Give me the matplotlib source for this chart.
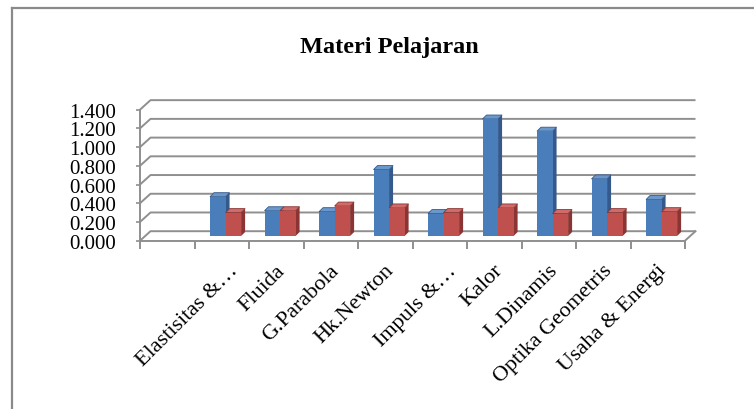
import numpy as np
import matplotlib
matplotlib.use("Agg")
import matplotlib.pyplot as plt
from matplotlib.lines import Line2D

# ---- data ----
categories = ["", "Elastisitas &…", "Fluida", "G.Parabola", "Hk.Newton", "Impuls &…",
              "Kalor", "L.Dinamis", "Optika Geometris", "Usaha & Energi"]
series_a = [np.nan, 0.42, 0.27, 0.26, 0.71, 0.24, 1.25, 1.12, 0.61, 0.39]
series_b = [np.nan, 0.25, 0.27, 0.32, 0.30, 0.25, 0.30, 0.24, 0.25, 0.26]
y_ticks = [0.0, 0.2, 0.4, 0.6, 0.8, 1.0, 1.2, 1.4]
y_ticklabels = ["0.000", "0.200", "0.400", "0.600", "0.800", "1.000", "1.200", "1.400"]
title = "Materi Pelajaran"

W, H = 754, 410
fig = plt.figure(figsize=(W / 100, H / 100), dpi=100)
fig.patch.set_facecolor("white")
serif = ["Liberation Serif", "DejaVu Serif"]

# axes placement in pixel terms
px_per_x = 54.5
px_per_y = 93.6
left_px, right_px = 140, 706
zero_px, top_px = 241.7, 94
n = len(categories)
xmin = -0.5
xmax = xmin + (right_px - left_px) / px_per_x
ymax = (zero_px - top_px) / px_per_y
ax = fig.add_axes([left_px / W, (H - zero_px) / H, (right_px - left_px) / W, (zero_px - top_px) / H])
ax.set_xlim(xmin, xmax)
ax.set_ylim(0, ymax)
ax.patch.set_alpha(0)

# 3D depth of the walls (data units)
wdx, wdy = 10.5 / px_per_x, 9.5 / px_per_y
x0, x1 = -0.5, n - 0.5
grid_c = "#8f8f8f"
for v in y_ticks:
    ax.plot([x0, x0 + wdx, x1 + wdx], [v, v + wdy, v + wdy], color=grid_c, lw=1.4,
            solid_capstyle="butt", zorder=1, clip_on=False)
# floor right edge
ax.plot([x1, x1 + wdx], [0, wdy], color=grid_c, lw=1.4, zorder=1, clip_on=False)

# spines
for s in ["top", "right"]:
    ax.spines[s].set_visible(False)
ax.spines["left"].set_bounds(0, y_ticks[-1])
ax.spines["bottom"].set_bounds(x0, x1)
ax.spines["left"].set_color(grid_c)
ax.spines["bottom"].set_color(grid_c)
ax.spines["left"].set_linewidth(1.4)
ax.spines["bottom"].set_linewidth(1.4)

ax.set_yticks(y_ticks)
ax.set_yticklabels(y_ticklabels, fontsize=15, family=serif)
ax.tick_params(axis="y", length=3, width=1.2, color=grid_c, pad=14)
ax.set_xticks(np.arange(-0.5, n, 1.0))
ax.set_xticklabels([])
ax.tick_params(axis="x", length=6, width=1.4, color=grid_c, direction="out")

# bars
bw = 0.285
bx, by = 0.07, 0.05
ddx, ddy = 4.0 / px_per_x, 4.0 / px_per_y
xs = np.arange(n)
styles = [
    (series_a, xs + bx - bw / 2, "#4a7ebb", "#35598a", "#6a97cc", 3),
    (series_b, xs + bx + bw / 2, "#c0504d", "#8a3533", "#cf6b68", 6),
]
for vals, pos, fc, sc, tc, z in styles:
    bars = ax.bar(pos, vals, width=bw, bottom=by, color=fc, zorder=z + 1,
                  edgecolor="none")
    for p in bars.patches:
        h = p.get_height()
        if not np.isfinite(h):
            continue
        xl, w, yb = p.get_x(), p.get_width(), p.get_y()
        xr, yt = xl + w, yb + h
        ax.fill([xr, xr + ddx, xr + ddx, xr], [yb, yb + ddy, yt + ddy, yt],
                color=sc, zorder=z, lw=0)
        ax.fill([xl, xr, xr + ddx, xl + ddx], [yt, yt, yt + ddy, yt + ddy],
                color=tc, zorder=z, lw=0.6, edgecolor=sc)

# category labels
for i, cat in enumerate(categories):
    if not cat:
        continue
    dx = 12 if cat.endswith("…") else 4
    ax.annotate(cat, xy=(i, 0), xytext=(dx, -25), textcoords="offset pixels",
                rotation=45, ha="right", va="center_baseline", rotation_mode="anchor",
                fontsize=16, family=serif, annotation_clip=False)

# title
fig.text(389 / W, 1 - 47 / H, title, ha="center", va="center", fontsize=17.5,
         fontweight="bold", family=serif)

# chart-area border (top and left edges visible)
fig.add_artist(Line2D([11.5 / W, 11.5 / W], [0, 1 - 8.5 / H], transform=fig.transFigure,
                      color="#8a8a8a", lw=1.6))
fig.add_artist(Line2D([11.5 / W, 1], [1 - 8.5 / H, 1 - 8.5 / H], transform=fig.transFigure,
                      color="#8a8a8a", lw=1.6))

fig.savefig("out.png", dpi=100, facecolor="white")
